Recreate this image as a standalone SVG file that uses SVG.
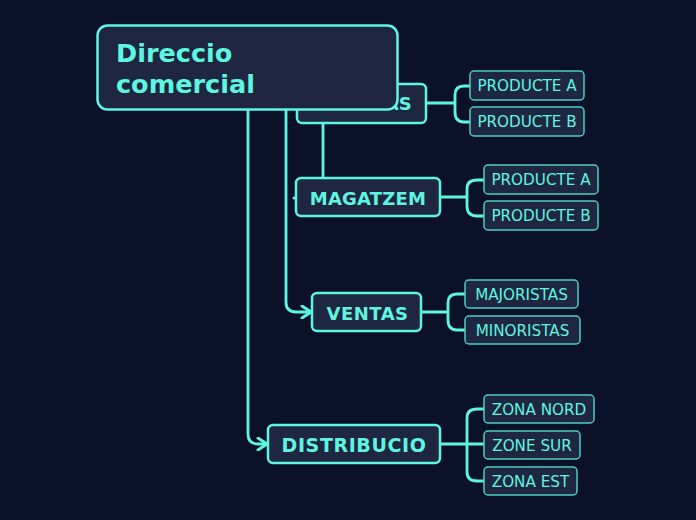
<svg xmlns="http://www.w3.org/2000/svg" width="696" height="520" viewBox="0 0 696 520">
<defs>
<style>
.bg{fill:#0b1129}
.n{fill:#1e2641;stroke:#5ef5e1;stroke-width:2.5}
.c{fill:#1e2641;stroke:#4ccfbf;stroke-width:1.5}
.t{font-family:"DejaVu Sans",sans-serif;font-weight:bold;fill:#5ef5e1;text-anchor:middle}
.s{font-family:"DejaVu Sans",sans-serif;font-size:15.2px;fill:#5ef5e1;text-anchor:middle}
.l{fill:none;stroke:#5ef5e1;stroke-width:2.8;stroke-linecap:round;stroke-linejoin:round}
</style>
<marker id="ah" viewBox="0 0 14 14" refX="12" refY="7" markerWidth="14" markerHeight="14" markerUnits="userSpaceOnUse" orient="auto">
<path d="M3,1 L12,7 L3,13" fill="none" stroke="#5ef5e1" stroke-width="3" stroke-linecap="round" stroke-linejoin="round"/>
</marker>
</defs>
<rect class="bg" x="0" y="0" width="696" height="520"/>
<g id="connectors">
<path class="l" d="M323,110 V178"/>
<circle cx="294" cy="198" r="1.5" fill="#5ef5e1"/>
<path class="l" d="M286,110 V302 Q286,312 296,312 H311" marker-end="url(#ah)"/>
<path class="l" d="M248,110 V434 Q248,444 258,444 H267" marker-end="url(#ah)"/>
<path class="l" d="M426,103 H455 M470,86 H464 Q455,86 455,95 V112 Q455,122 464,122 H470"/>
<path class="l" d="M440,197 H467 M484,180 H477 Q467,180 467,189 V206 Q467,216 477,216 H484"/>
<path class="l" d="M421,312 H448 M465,294 H457 Q448,294 448,303 V320 Q448,330 457,330 H465"/>
<path class="l" d="M440,444 H484 M484,409 H477 Q467,409 467,418 V472 Q467,481 477,481 H484"/>
</g>
<g id="compras">
<rect class="n" x="297" y="84" width="129" height="39" rx="5"/>
<text class="t" x="361.5" y="110" font-size="18">COMPRAS</text>
</g>
<g id="root">
<rect class="n" x="97.5" y="25.5" width="300" height="84" rx="10" stroke-width="3"/>
<text class="t" x="116" y="62" font-size="25.5" style="text-anchor:start">Direccio</text>
<text class="t" x="116" y="93" font-size="25.5" style="text-anchor:start">comercial</text>
</g>
<g id="magatzem">
<rect class="n" x="296" y="178" width="144" height="38" rx="5"/>
<text class="t" x="368" y="205" font-size="18" letter-spacing="0.2">MAGATZEM</text>
</g>
<g id="ventas">
<rect class="n" x="312" y="293" width="109" height="38" rx="5"/>
<text class="t" x="367.5" y="319.5" font-size="18" letter-spacing="0.5">VENTAS</text>
</g>
<g id="distribucio">
<rect class="n" x="268" y="425" width="172" height="38" rx="5"/>
<text class="t" x="354" y="451.5" font-size="19" letter-spacing="0.6">DISTRIBUCIO</text>
</g>
<g id="c-producte-a1"><rect class="c" x="470" y="71" width="114" height="29" rx="4"/><text class="s" x="527" y="91">PRODUCTE A</text></g>
<g id="c-producte-b1"><rect class="c" x="470" y="107" width="114" height="29" rx="4"/><text class="s" x="527" y="127">PRODUCTE B</text></g>
<g id="c-producte-a2"><rect class="c" x="484" y="165" width="114" height="29" rx="4"/><text class="s" x="541" y="185">PRODUCTE A</text></g>
<g id="c-producte-b2"><rect class="c" x="484" y="201" width="114" height="29" rx="4"/><text class="s" x="541" y="221">PRODUCTE B</text></g>
<g id="c-majoristas"><rect class="c" x="465" y="280" width="113" height="28" rx="4"/><text class="s" x="521.5" y="300">MAJORISTAS</text></g>
<g id="c-minoristas"><rect class="c" x="465" y="316" width="115" height="28" rx="4"/><text class="s" x="522.5" y="336">MINORISTAS</text></g>
<g id="c-zona-nord"><rect class="c" x="484" y="395" width="110" height="28" rx="4"/><text class="s" x="539" y="415">ZONA NORD</text></g>
<g id="c-zone-sur"><rect class="c" x="484" y="431" width="96" height="28" rx="4"/><text class="s" x="532" y="451">ZONE SUR</text></g>
<g id="c-zona-est"><rect class="c" x="484" y="467" width="93" height="28" rx="4"/><text class="s" x="530.5" y="487">ZONA EST</text></g>
</svg>
